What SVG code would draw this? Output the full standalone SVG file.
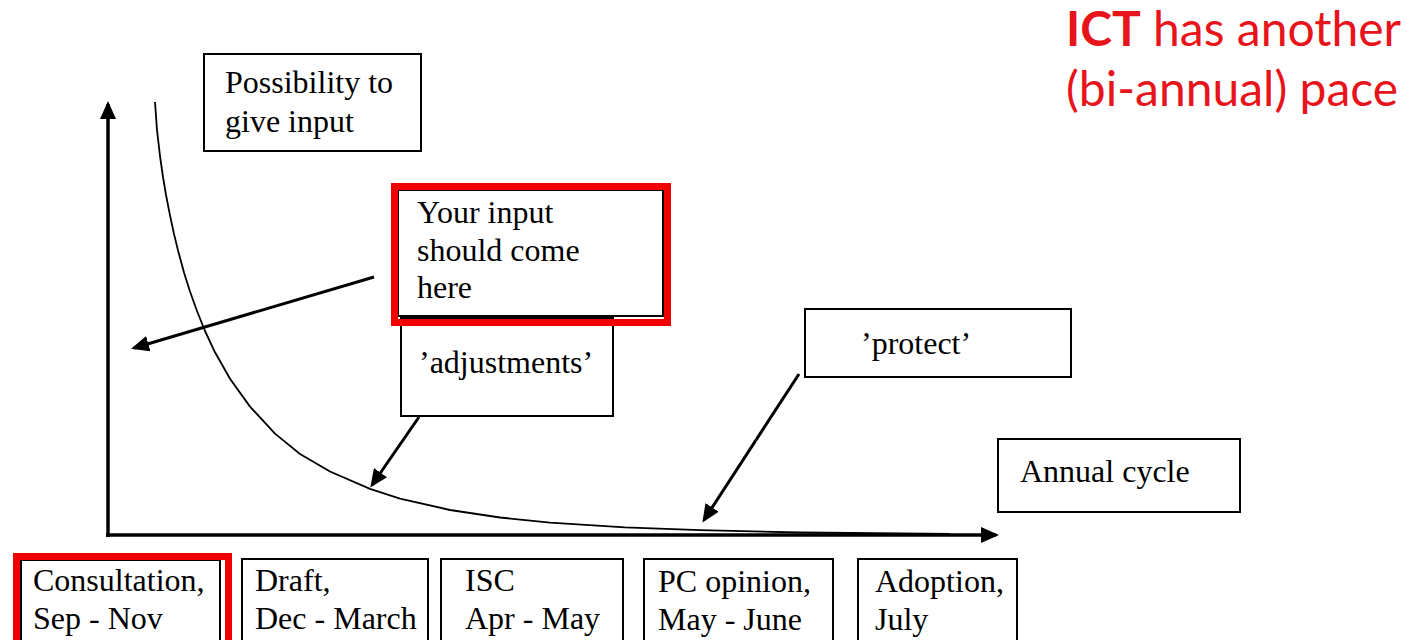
<svg xmlns="http://www.w3.org/2000/svg" width="1425" height="640" viewBox="0 0 1425 640">
  <style>
    .box { fill: #ffffff; stroke: #000000; stroke-width: 2; }
    .hl { fill: none; stroke: #f00000; stroke-width: 7; }
    .lbl { font-family: "Liberation Serif", "Times New Roman", serif; font-size: 32px; fill: #000000; }
    .axis { fill: none; stroke: #000000; stroke-width: 3.5; }
    .ptr { fill: none; stroke: #000000; stroke-width: 3; }
    .curve { fill: none; stroke: #000000; stroke-width: 1.8; stroke-linejoin: round; }
    .note { font-family: Lato, "Open Sans", sans-serif; font-size: 48px; fill: #e8141c; }
  </style>
  <defs>
    <marker id="head" viewBox="0 0 18 16" markerWidth="18" markerHeight="16" refX="15" refY="8" orient="auto" markerUnits="userSpaceOnUse">
      <path d="M0,0 L18,8 L0,16 z" fill="#000000"/>
    </marker>
  </defs>

  <rect width="1425" height="640" fill="#ffffff"/>

  <!-- axes, decay curve and pointers -->
  <g id="connectors">
    <line class="axis" x1="108" y1="537" x2="108" y2="104" marker-end="url(#head)"/>
    <line class="axis" x1="106" y1="535" x2="996" y2="535" marker-end="url(#head)"/>
    <polyline class="curve" points="155,102 157,130 160,156 163,177 166,195 170,215.4 174,234 178,250.4 184,272.4 190,291.5 197,311 205,331 215,352.3 230,378.8 250,406.6 275,433.6 300,454 330,471.5 370,488.9 400,498.6 450,510 500,517.5 550,522.6 625,527.4 700,530.2 800,532.5 950,534"/>
    <line class="ptr" x1="374" y1="277" x2="134" y2="348" marker-end="url(#head)"/>
    <line class="ptr" x1="419" y1="417" x2="372" y2="485" marker-end="url(#head)"/>
    <line class="ptr" x1="799" y1="374" x2="704" y2="520" marker-end="url(#head)"/>
  </g>

  <g id="possibility">
    <rect class="box" x="204" y="54" width="217" height="97"/>
    <text class="lbl" x="225" y="93">Possibility to</text>
    <text class="lbl" x="225" y="132">give input</text>
  </g>

  <g id="adjustments">
    <rect class="box" x="401" y="318" width="212" height="98"/>
    <text class="lbl" x="419" y="373">’adjustments’</text>
  </g>

  <g id="your-input">
    <rect class="box" x="398" y="190" width="265" height="126"/>
    <rect class="hl" x="394.5" y="186.5" width="273" height="136"/>
    <text class="lbl" x="417" y="223">Your input</text>
    <text class="lbl" x="417" y="261">should come</text>
    <text class="lbl" x="417" y="298">here</text>
  </g>

  <g id="protect">
    <rect class="box" x="805" y="309" width="266" height="68"/>
    <text class="lbl" x="861" y="354">’protect’</text>
  </g>

  <g id="annual-cycle">
    <rect class="box" x="998" y="439" width="242" height="73"/>
    <text class="lbl" x="1020" y="482">Annual cycle</text>
  </g>

  <g id="consultation">
    <rect class="box" x="21" y="560" width="199" height="110"/>
    <rect class="hl" x="16.5" y="556.5" width="212" height="120"/>
    <text class="lbl" x="33" y="591">Consultation,</text>
    <text class="lbl" x="33" y="629">Sep - Nov</text>
  </g>

  <g id="draft">
    <rect class="box" x="242" y="559" width="186" height="110"/>
    <text class="lbl" x="255" y="591">Draft,</text>
    <text class="lbl" x="255" y="629">Dec - March</text>
  </g>

  <g id="isc">
    <rect class="box" x="441" y="559" width="182" height="110"/>
    <text class="lbl" x="465" y="591">ISC</text>
    <text class="lbl" x="465" y="629">Apr - May</text>
  </g>

  <g id="pc-opinion">
    <rect class="box" x="644" y="559" width="189" height="110"/>
    <text class="lbl" x="658" y="592">PC opinion,</text>
    <text class="lbl" x="658" y="630">May - June</text>
  </g>

  <g id="adoption">
    <rect class="box" x="858" y="559" width="159" height="110"/>
    <text class="lbl" x="875" y="592">Adoption,</text>
    <text class="lbl" x="875" y="630">July</text>
  </g>

  <g id="ict-note">
    <text class="note" x="1066" y="46"><tspan font-weight="bold">ICT</tspan> has another</text>
    <text class="note" x="1066" y="106">(bi-annual) pace</text>
  </g>
</svg>
